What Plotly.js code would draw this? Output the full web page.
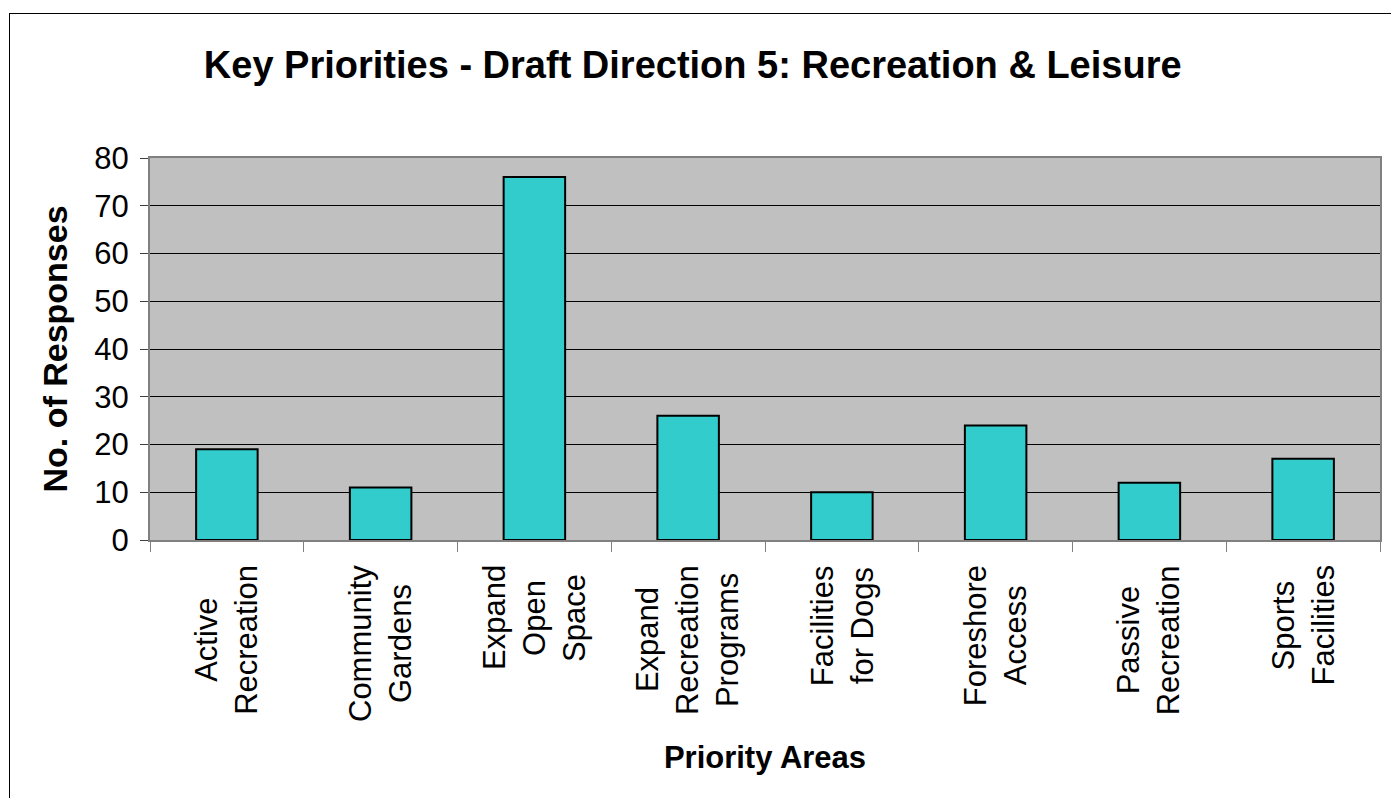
<!DOCTYPE html>
<html>
<head>
<meta charset="utf-8">
<script src="https://cdn.plot.ly/plotly-3.0.1.min.js"></script>
<style>
  html, body { margin: 0; padding: 0; background: #fff; overflow: hidden; }
  #frame { position: absolute; left: 9px; top: 13px; width: 1400px; height: 820px; border: 1px solid #000; box-sizing: border-box; }
  #chart { position: absolute; left: 0; top: 0; width: 1391px; height: 798px; }
</style>
</head>
<body>
<div id="frame"></div>
<div id="chart"></div>
<script>
// ---- data ----
const categories = [
  "Active Recreation",
  "Community Gardens",
  "Expand Open Space",
  "Expand Recreation Programs",
  "Facilities for Dogs",
  "Foreshore Access",
  "Passive Recreation",
  "Sports Facilities"
];
const tickLabelLines = [
  ["Active", "Recreation"],
  ["Community", "Gardens"],
  ["Expand", "Open", "Space"],
  ["Expand", "Recreation", "Programs"],
  ["Facilities", "for Dogs"],
  ["Foreshore", "Access"],
  ["Passive", "Recreation"],
  ["Sports", "Facilities"]
];
const responses = [19, 11, 76, 26, 10, 24, 12, 17];
const chartTitle = "Key Priorities - Draft Direction 5: Recreation &amp; Leisure";
const xTitle = "Priority Areas";
const yTitle = "No. of Responses";

const FONT = "Arial, 'Liberation Sans', Helvetica, sans-serif";
const LABEL_SIZE = 31;
const LINE_GAP = 40;
const LABEL_TOP = 25;

const trace = {
  type: "bar",
  x: categories,
  y: responses,
  width: 0.4,
  marker: { color: "#33CCCC", line: { color: "#000000", width: 2 } },
  hoverinfo: "x+y"
};

// measure label lines so rotated lines are centred on each other
const ctx = document.createElement("canvas").getContext("2d");
ctx.font = LABEL_SIZE + "px Arial, 'Liberation Sans', sans-serif";

const labelAnnotations = [];
categories.forEach((c, i) => {
  const lines = tickLabelLines[i];
  const maxW = Math.max(...lines.map(l => ctx.measureText(l).width));
  lines.forEach((line, j) => {
    labelAnnotations.push({
      x: c, xref: "x",
      y: 0, yref: "paper",
      text: line,
      showarrow: false,
      textangle: -90,
      xanchor: "center",
      yanchor: "middle",
      xshift: (j - (lines.length - 1) / 2) * LINE_GAP,
      yshift: -(LABEL_TOP + maxW / 2),
      font: { family: FONT, size: LABEL_SIZE, color: "#000" }
    });
  });
});

const layout = {
  width: 1391,
  height: 798,
  margin: { l: 150, r: 11, t: 158, b: 258, pad: 0 },
  paper_bgcolor: "rgba(0,0,0,0)",
  plot_bgcolor: "#C0C0C0",
  showlegend: false,
  font: { family: FONT, color: "#000" },
  title: {
    text: "<b>" + chartTitle + "</b>",
    font: { family: FONT, size: 38, color: "#000" },
    x: 0.498, xanchor: "center",
    y: 1 - 65 / 798, yanchor: "middle", yref: "container"
  },
  xaxis: {
    type: "category",
    range: [-0.5, categories.length - 0.5],
    showticklabels: false,
    ticks: "outside",
    tickson: "boundaries",
    ticklen: 10,
    tickwidth: 1,
    tickcolor: "#808080",
    showgrid: false,
    showline: true,
    linecolor: "#808080",
    linewidth: 2,
    mirror: true,
    zeroline: false,
    title: {
      text: "<b>" + xTitle + "</b>",
      font: { family: FONT, size: 31, color: "#000" },
      standoff: 205
    }
  },
  yaxis: {
    range: [0, 80],
    tickvals: [0, 10, 20, 30, 40, 50, 60, 70, 80],
    ticks: "outside",
    ticklen: 8,
    tickwidth: 1,
    tickcolor: "#404040",
    ticklabelstandoff: 5,
    tickfont: { family: FONT, size: 31, color: "#000" },
    showgrid: true,
    gridcolor: "#000000",
    gridwidth: 1,
    showline: true,
    linecolor: "#808080",
    linewidth: 2,
    mirror: true,
    zeroline: false,
    title: {
      text: "<b>" + yTitle + "</b>",
      font: { family: FONT, size: 34, color: "#000" },
      standoff: 16
    }
  },
  annotations: labelAnnotations
};

Plotly.newPlot("chart", [trace], layout, { displayModeBar: false });
</script>
</body>
</html>
